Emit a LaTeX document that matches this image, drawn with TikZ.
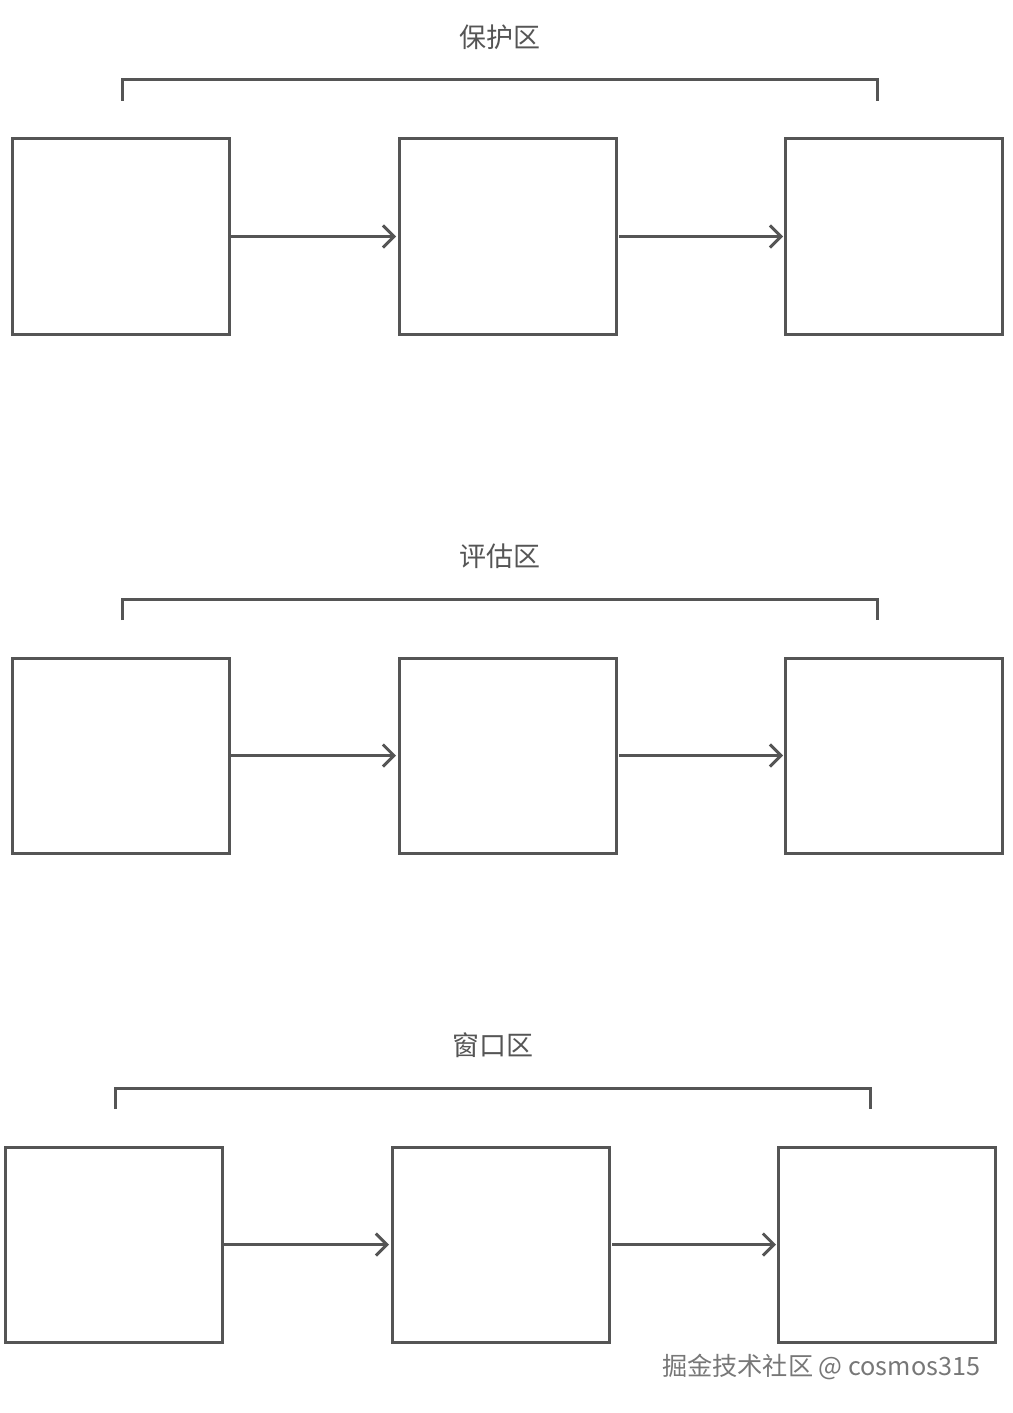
\documentclass[tikz,border=0pt]{standalone}
\usepackage{fontspec}
\newfontfamily\cjk{Noto Sans CJK SC}
\usetikzlibrary{calc}
\usetikzlibrary{arrows.meta}
\definecolor{linegray}{HTML}{555555}
\definecolor{markgray}{HTML}{777777}

\begin{document}
\begin{tikzpicture} [x=0.5pt, y=-0.5pt, line width=1.5pt, draw=linegray]
\useasboundingbox (0,0) rectangle (1012,1413);
\tikzset{queuebox/.style={draw=linegray, line width=1.5pt, minimum width=108.5pt, minimum height=97.5pt, inner sep=0, outer sep=0},
         link/.style={draw=linegray, line width=1.5pt, -{Straight Barb[length=5.5pt, width=11pt]}}}
\foreach \r/\y/\dx/\lab in {1/0/0/保护区, 2/519/0/评估区, 3/1008/-7/窗口区} {
 \node at ({500+\dx},{37+\y}) (lab\r) {\cjk\fontsize{13.5}{16}\selectfont\color{linegray}\lab};
 \draw[linegray] ({122+\dx},{101+\y}) |- ({877+\dx},{80+\y}) -- ({877+\dx},{101+\y});
 \node[queuebox] at ({120.5+\dx},{236.5+\y}) (box\r a) {};
 \node[queuebox] at ({507.5+\dx},{236.5+\y}) (box\r b) {};
 \node[queuebox] at ({893.5+\dx},{236.5+\y}) (box\r c) {};
 \draw[link] (box\r a.east) -- ([xshift=-1.5pt]box\r b.west);
 \draw[link] ([xshift=1.5pt]box\r b.east) -- ([xshift=-1pt]box\r c.west);
}
\node at (821,1367) (mark) {\cjk\fontsize{12.6}{15}\selectfont\color{markgray}掘金技术社区 @ cosmos315};
\end{tikzpicture}
\end{document}
